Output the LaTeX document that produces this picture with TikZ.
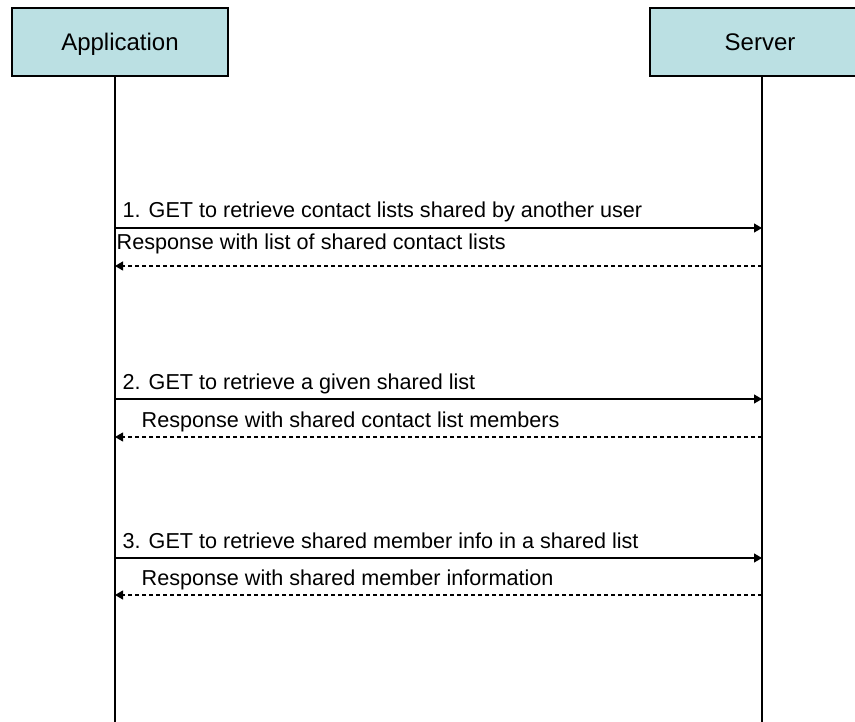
\documentclass[tikz,border=0pt]{standalone}
\usepackage{fontspec}
\setmainfont{Liberation Sans}
\usetikzlibrary{arrows.meta}
\definecolor{boxcyan}{RGB}{187,224,227}
\tikzset{
  actor/.style={draw, line width=2.2pt, fill=boxcyan, minimum height=68pt, inner sep=0pt, text height=20pt, text depth=2pt, font=\fontsize{24}{28}\selectfont},
  lifeline/.style={line width=1.8pt},
  msg/.style={line width=1.1pt, -{Triangle[length=8pt,width=9pt]}},
  reply/.style={msg, dash pattern=on 4pt off 3pt},
  msgtext/.style={anchor=base west, inner sep=0pt, font=\fontsize{21.6}{26}\selectfont}
}
\begin{document}
\begin{tikzpicture}[x=1pt,y=-1pt]
        \clip (0,0) rectangle (855,722);
        \node[actor, minimum width=216pt] (app) at (120,42) {Application};
        \node[actor, minimum width=220pt] (srv) at (760,42) {Server};

        \coordinate (appEnd) at (115,722);
        \coordinate (srvEnd) at (762,722);
        \draw[lifeline] (app.south -| appEnd) -- (appEnd);
        \draw[lifeline] (srv.south -| srvEnd) -- (srvEnd);

        \coordinate (a1) at (115,228); \coordinate (s1) at (762,228);
        \coordinate (a2) at (115,266); \coordinate (s2) at (762,266);
        \coordinate (a3) at (115,399); \coordinate (s3) at (762,399);
        \coordinate (a4) at (115,437); \coordinate (s4) at (762,437);
        \coordinate (a5) at (115,558); \coordinate (s5) at (762,558);
        \coordinate (a6) at (115,595); \coordinate (s6) at (762,595);

        \draw[msg] (a1) -- (s1);
        \draw[reply] (s2) -- (a2);
        \draw[msg] (a3) -- (s3);
        \draw[reply] (s4) -- (a4);
        \draw[msg] (a5) -- (s5);
        \draw[reply] (s6) -- (a6);

        \node[msgtext] (getLists) at (122.5,218) {1. GET to retrieve contact lists shared by another user};
        \node[msgtext] (respLists) at (116.5,250) {Response with list of shared contact lists};
        \node[msgtext] (getList) at (122.5,389) {2. GET to retrieve a given shared list};
        \node[msgtext] (respList) at (141.5,427) {Response with shared contact list members};
        \node[msgtext] (getMember) at (122.5,548) {3. GET to retrieve shared member info in a shared list};
        \node[msgtext] (respMember) at (141.5,585) {Response with shared member information};
      \end{tikzpicture}
\end{document}
